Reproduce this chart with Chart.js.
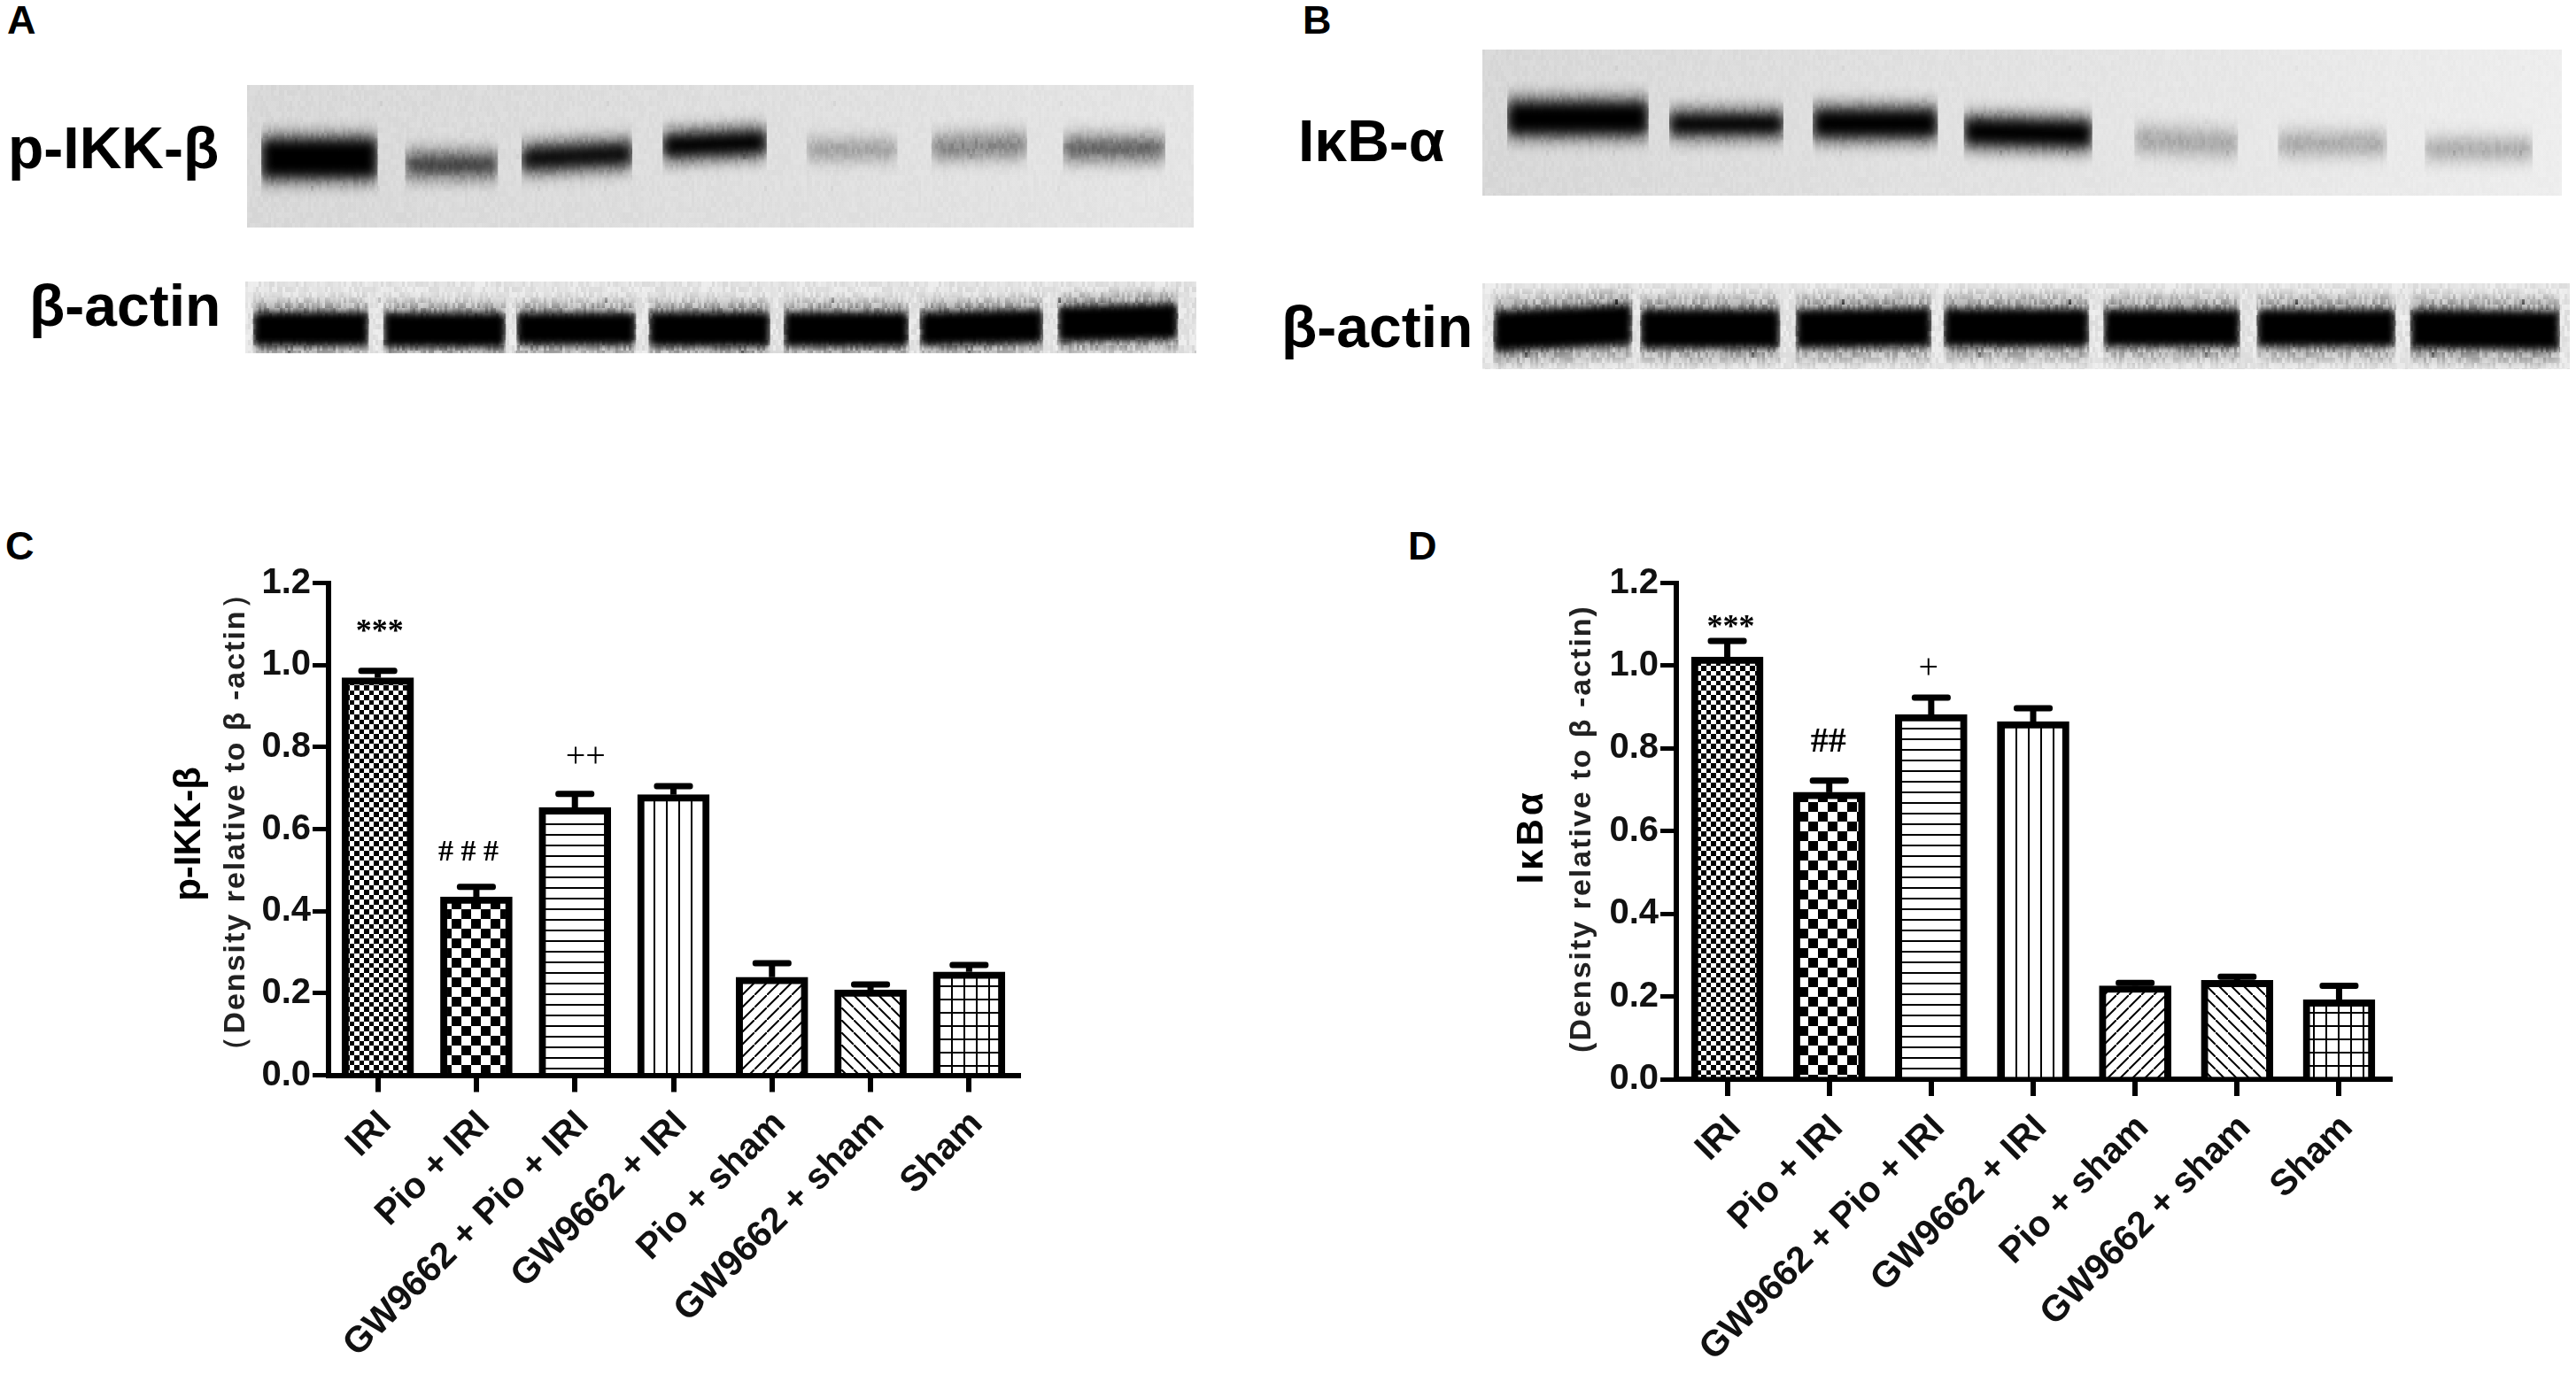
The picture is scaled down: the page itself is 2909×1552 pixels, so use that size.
<!DOCTYPE html>
<html>
  <head>
    <title>p-IKK-β and IκB-α</title>
    <script src="https://cdn.jsdelivr.net/npm/chart.js"></script>
    <style>
      body {
        margin: 0;
        background: #fff;
        width: 2909px;
        height: 1552px;
        position: relative;
        overflow: hidden;
        font-family: "Liberation Sans", Arial, sans-serif;
      }
      canvas {
        position: absolute;
      }
      .txt {
        position: absolute;
        font-weight: bold;
        line-height: 1;
        color: #000;
        white-space: nowrap;
      }
    </style>
  </head>
  <body>
    <div class="txt" style="left: 8px; top: 0px; font-size: 45px">A</div>
    <div class="txt" style="left: 1471px; top: 0px; font-size: 45px">B</div>
    <div class="txt" style="left: 6px; top: 594px; font-size: 45px">C</div>
    <div class="txt" style="left: 1590px; top: 594px; font-size: 45px">D</div>
    <div class="txt" style="left: 9px; top: 134px; font-size: 66px">p-IKK-β</div>
    <div class="txt" style="left: 33px; top: 312px; font-size: 66px">β-actin</div>
    <div class="txt" style="left: 1466px; top: 126px; font-size: 66px">IκB-α</div>
    <div class="txt" style="left: 1447px; top: 336px; font-size: 66px">β-actin</div>

    <canvas id="blotA" width="1069" height="161" style="left: 279px; top: 96px"></canvas>
    <canvas id="actinA" width="1074" height="81" style="left: 277px; top: 318px"></canvas>
    <canvas id="blotB" width="1219" height="165" style="left: 1674px; top: 56px"></canvas>
    <canvas id="actinB" width="1228" height="97" style="left: 1674px; top: 320px"></canvas>
    <canvas id="chartC" width="1000" height="932" style="left: 180px; top: 620px"></canvas>
    <canvas id="chartD" width="1060" height="932" style="left: 1690px; top: 620px"></canvas>

    <script>
      const categories = ["IRI", "Pio + IRI", "GW9662 + Pio + IRI", "GW9662 + IRI", "Pio + sham", "GW9662 + sham", "Sham"];
      const yTicks = [0, 0.2, 0.4, 0.6, 0.8, 1.0, 1.2];

      // panel C
      const ikkMeans = [0.969, 0.435, 0.653, 0.684, 0.239, 0.208, 0.252];
      const ikkUpper = [0.986, 0.459, 0.686, 0.705, 0.273, 0.221, 0.269];
      const ikkMarks = ["***", "# # #", "++", "", "", "", ""];
      const ikkMarkLevels = [1.079, 0.543, 0.774, 0, 0, 0, 0];

      // panel D
      const ikbMeans = [1.021, 0.694, 0.882, 0.865, 0.226, 0.239, 0.192];
      const ikbUpper = [1.06, 0.722, 0.923, 0.897, 0.233, 0.248, 0.226];
      const ikbMarks = ["***", "##", "+", "", "", "", ""];
      const ikbMarkLevels = [1.091, 0.814, 0.992, 0, 0, 0, 0];

      // blots: lane start/end in % of the membrane width, band top/bottom in % of its height
      const blotAStart = [1.5, 16.7, 29, 43.9, 59.1, 72.3, 86.2];
      const blotAEnd = [13.8, 26.5, 40.7, 54.9, 68.7, 82.4, 97];
      const blotATop = [38, 49, 44, 35, 41, 38, 38];
      const blotABottom = [65, 63, 60, 51, 50, 50, 51];
      const blotATilt = [0, 0, -4, -3, 0, -2, 0];
      const blotADensity = [100, 72, 95, 100, 34, 46, 60];

      const actinAStart = [0.8, 14.5, 28.5, 42.4, 56.6, 70.9, 85.4];
      const actinAEnd = [13, 27.4, 41.1, 55.2, 69.8, 83.9, 98.1];
      const actinATop = [42, 43, 43, 42, 42, 42, 34];
      const actinABottom = [90, 92, 89, 91, 91, 90, 85];
      const actinATilt = [0, 0, 0, 0, 0, -4, -4];
      const actinADensity = [100, 100, 100, 100, 100, 100, 100];

      const blotBStart = [2.3, 17.3, 30.6, 44.6, 60.4, 73.7, 87.3];
      const blotBEnd = [15.4, 27.9, 42.2, 56.5, 70, 83.8, 97.3];
      const blotBTop = [36, 44, 41, 47, 55, 59, 63];
      const blotBBottom = [58, 58, 60, 65, 68, 70, 73];
      const blotBTilt = [0, 0, 0, 2, 3, 0, 0];
      const blotBDensity = [100, 100, 100, 100, 26, 26, 26];

      const actinBStart = [1, 14.5, 28.8, 42.4, 57.1, 71.2, 85.3];
      const actinBEnd = [13.8, 27.4, 41.3, 55.8, 69.7, 84, 99.1];
      const actinBTop = [32, 30, 30, 29, 30, 30, 30];
      const actinBBottom = [80, 76, 76, 74, 74, 74, 76];
      const actinBTilt = [-8, 0, -2, 0, 0, 0, 2];
      const actinBDensity = [100, 100, 100, 100, 100, 100, 100];

      const FONT = '"Liberation Sans", Arial, sans-serif';
      const SERIF = '"Liberation Serif", "Times New Roman", serif';

      function tile(w, h, paint) {
        const c = document.createElement("canvas");
        c.width = w;
        c.height = h;
        const g = c.getContext("2d");
        g.fillStyle = "#fff";
        g.fillRect(0, 0, w, h);
        g.fillStyle = "#000";
        g.strokeStyle = "#000";
        paint(g);
        return g.createPattern(c, "repeat");
      }

      function barPatterns() {
        return [
          tile(11, 11, (g) => {
            g.fillRect(0, 0, 6, 6);
            g.fillRect(6, 6, 5, 5);
          }),
          tile(22, 22, (g) => {
            g.fillRect(0, 0, 11, 11);
            g.fillRect(11, 11, 11, 11);
          }),
          tile(12, 12, (g) => g.fillRect(0, 10, 12, 2)),
          tile(14, 14, (g) => g.fillRect(12, 0, 2, 14)),
          tile(14, 14, (g) => {
            g.lineWidth = 2;
            g.beginPath();
            g.moveTo(-2, 16);
            g.lineTo(16, -2);
            g.stroke();
          }),
          tile(14, 14, (g) => {
            g.lineWidth = 2;
            g.beginPath();
            g.moveTo(-2, -2);
            g.lineTo(16, 16);
            g.stroke();
          }),
          tile(14, 15, (g) => {
            g.fillRect(12, 0, 2, 15);
            g.fillRect(0, 13, 14, 2);
          }),
        ];
      }

      // error bars, significance marks and the two line y caption
      const panelPlugin = {
        id: "panel",
        beforeDatasetsDraw(chart, args, opts) {
          const ctx = chart.ctx;
          const meta = chart.getDatasetMeta(0);
          const y = chart.scales.y;
          ctx.save();
          ctx.fillStyle = "#000";
          opts.upper.forEach((u, i) => {
            const x = meta.data[i].x;
            const top = y.getPixelForValue(u);
            ctx.fillRect(x - 3.5, top, 7, y.getPixelForValue(opts.means[i]) - top);
            ctx.beginPath();
            ctx.roundRect(x - 22, top - 3.5, 44, 7, 3);
            ctx.fill();
          });
          ctx.restore();
        },
        afterDatasetsDraw(chart, args, opts) {
          const ctx = chart.ctx;
          const meta = chart.getDatasetMeta(0);
          const y = chart.scales.y;
          ctx.save();
          ctx.textAlign = "center";
          ctx.textBaseline = "middle";
          ctx.fillStyle = "#000";
          opts.marks.forEach((m, i) => {
            if (!m) return;
            if (m.includes("+")) ctx.font = "40px " + SERIF;
            else if (m.includes(" ")) ctx.font = "bold 34px " + SERIF;
            else if (m.includes("#")) ctx.font = "bold 40px " + SERIF;
            else ctx.font = "bold 36px " + SERIF;
            ctx.fillText(m, meta.data[i].x + opts.markShift[i], y.getPixelForValue(opts.levels[i]));
          });
          ctx.restore();

          ctx.save();
          ctx.fillStyle = "#000";
          ctx.textAlign = "center";
          ctx.textBaseline = "alphabetic";
          ctx.translate(opts.titleX, opts.titleY);
          ctx.rotate(-Math.PI / 2);
          ctx.font = "bold 42px " + FONT;
          ctx.letterSpacing = opts.titleSpacing;
          ctx.fillText(opts.title, 0, 0);
          ctx.restore();

          ctx.save();
          ctx.fillStyle = "#222";
          ctx.textAlign = "center";
          ctx.translate(opts.subX, opts.subY);
          ctx.rotate(-Math.PI / 2);
          ctx.font = "bold 34px " + FONT;
          ctx.letterSpacing = "2px";
          ctx.fillText(opts.sub, 0, 0);
          ctx.restore();
        },
      };

      function drawPanel(id, means, upper, marks, levels, cfg) {
        return new Chart(document.getElementById(id), {
          type: "bar",
          data: {
            labels: categories,
            datasets: [
              {
                data: means,
                backgroundColor: barPatterns(),
                borderColor: "#000",
                borderWidth: 8,
                borderSkipped: "bottom",
                barThickness: 81,
              },
            ],
          },
          plugins: [panelPlugin],
          options: {
            responsive: false,
            animation: false,
            layout: { padding: { left: 0, top: 38.6, right: cfg.right, bottom: 0 } },
            plugins: {
              legend: { display: false },
              tooltip: { enabled: false },
              panel: Object.assign({ means: means, upper: upper, marks: marks, levels: levels }, cfg),
            },
            scales: {
              x: {
                afterFit: (s) => (s.height = cfg.xHeight),
                border: { color: "#000", width: 6 },
                grid: { offset: false, drawOnChartArea: false, color: "#000", tickLength: 19, lineWidth: 6 },
                ticks: {
                  autoSkip: false,
                  minRotation: 45,
                  maxRotation: 45,
                  padding: 12,
                  labelOffset: 9,
                  color: "#111",
                  font: { family: FONT, size: 41, weight: "bold" },
                },
              },
              y: {
                min: 0,
                max: 1.2,
                afterFit: (s) => (s.width = cfg.yWidth),
                afterBuildTicks: (s) => (s.ticks = yTicks.map((v) => ({ value: v }))),
                border: { color: "#000", width: 6 },
                grid: { drawOnChartArea: false, color: "#000", tickLength: 18, lineWidth: 5 },
                ticks: {
                  padding: 2,
                  color: "#111",
                  font: { family: FONT, size: 40, weight: "bold" },
                  callback: (v) => v.toFixed(1),
                },
              },
            },
          },
        });
      }

      drawPanel("chartC", ikkMeans, ikkUpper, ikkMarks, ikkMarkLevels, {
        xHeight: 337.5,
        yWidth: 191,
        right: 30,
        markShift: [2, -9, 12, 0, 0, 0, 0],
        title: "p-IKK-β",
        titleSpacing: "0px",
        titleX: 46,
        titleY: 322,
        sub: "（Density relative to β -actin）",
        subX: 96,
        subY: 308,
      });

      drawPanel("chartD", ikbMeans, ikbUpper, ikbMarks, ikbMarkLevels, {
        xHeight: 333,
        yWidth: 203,
        right: 51,
        markShift: [4, -1, -3, 0, 0, 0, 0],
        title: "IκBα",
        titleSpacing: "4px",
        titleX: 52,
        titleY: 325,
        sub: "(Density relative to β -actin)",
        subX: 106,
        subY: 316,
      });

      // grain for the membrane: fixed hash so each render is the same
      function grain(ctx, strength) {
        const c = document.createElement("canvas");
        c.width = 256;
        c.height = 256;
        const g = c.getContext("2d");
        let s = 12345;
        for (let x = 0; x < 256; x += 3) {
          for (let y = 0; y < 256; y += 6) {
            s = (s * 1103515245 + 12345) & 0x7fffffff;
            g.fillStyle = "rgba(" + (s % 2 ? "0,0,0," : "255,255,255,") + (((s >> 8) % 100) / 100) * strength + ")";
            g.fillRect(x, y, 3, 6);
          }
        }
        return ctx.createPattern(c, "repeat");
      }

      const blotPlugin = {
        id: "blot",
        beforeDraw(chart, args, opts) {
          const ctx = chart.ctx;
          const w = chart.width;
          const h = chart.height;
          const bg = ctx.createLinearGradient(0, 0, w, 0);
          bg.addColorStop(0, opts.left);
          bg.addColorStop(1, opts.right);
          ctx.fillStyle = bg;
          ctx.fillRect(0, 0, w, h);
        },
        beforeDatasetsDraw(chart, args, opts) {
          chart.ctx.save();
          chart.ctx.filter = "blur(" + opts.blur + "px)";
        },
        afterDatasetsDraw(chart, args, opts) {
          const ctx = chart.ctx;
          ctx.restore();
          ctx.save();
          ctx.globalCompositeOperation = "overlay";
          ctx.fillStyle = grain(ctx, opts.grain);
          ctx.fillRect(0, 0, chart.width, chart.height);
          ctx.restore();
        },
      };

      function edge(start, end, level, tilt) {
        return {
          data: [
            { x: start, y: level },
            { x: end, y: level + tilt },
          ],
          showLine: false,
          pointRadius: 0,
          borderWidth: 0,
        };
      }

      function drawBlot(id, start, end, top, bottom, tilt, density, look) {
        const datasets = [];
        const addBand = (i, spread, alpha) => {
          const shade = Math.round(215 - 2.15 * density[i]);
          const upper = edge(start[i], end[i], top[i] - spread, tilt[i]);
          upper.backgroundColor = "rgba(" + shade + "," + shade + "," + shade + "," + alpha + ")";
          upper.fill = "+1";
          datasets.push(upper, edge(start[i], end[i], bottom[i] + spread, tilt[i]));
        };
        start.forEach((v, i) => addBand(i, look.halo, 0.3));
        start.forEach((v, i) => addBand(i, 0, 1));
        return new Chart(document.getElementById(id), {
          type: "line",
          data: { datasets: datasets },
          plugins: [blotPlugin],
          options: {
            responsive: false,
            animation: false,
            layout: { padding: 0 },
            plugins: { legend: { display: false }, tooltip: { enabled: false }, blot: look },
            scales: {
              x: { type: "linear", min: 0, max: 100, display: false },
              y: { type: "linear", min: 0, max: 100, reverse: true, display: false },
            },
          },
        });
      }

      drawBlot("blotA", blotAStart, blotAEnd, blotATop, blotABottom, blotATilt, blotADensity, { left: "#d4d4d4", right: "#e2e2e2", grain: 0.2, blur: 7, halo: 7 });
      drawBlot("actinA", actinAStart, actinAEnd, actinATop, actinABottom, actinATilt, actinADensity, { left: "#d8d8d8", right: "#d8d8d8", grain: 0.6, blur: 5, halo: 16 });
      drawBlot("blotB", blotBStart, blotBEnd, blotBTop, blotBBottom, blotBTilt, blotBDensity, { left: "#d4d4d4", right: "#ececec", grain: 0.18, blur: 7, halo: 7 });
      drawBlot("actinB", actinBStart, actinBEnd, actinBTop, actinBBottom, actinBTilt, actinBDensity, { left: "#dadada", right: "#dadada", grain: 0.6, blur: 5, halo: 16 });
    </script>
  </body>
</html>
